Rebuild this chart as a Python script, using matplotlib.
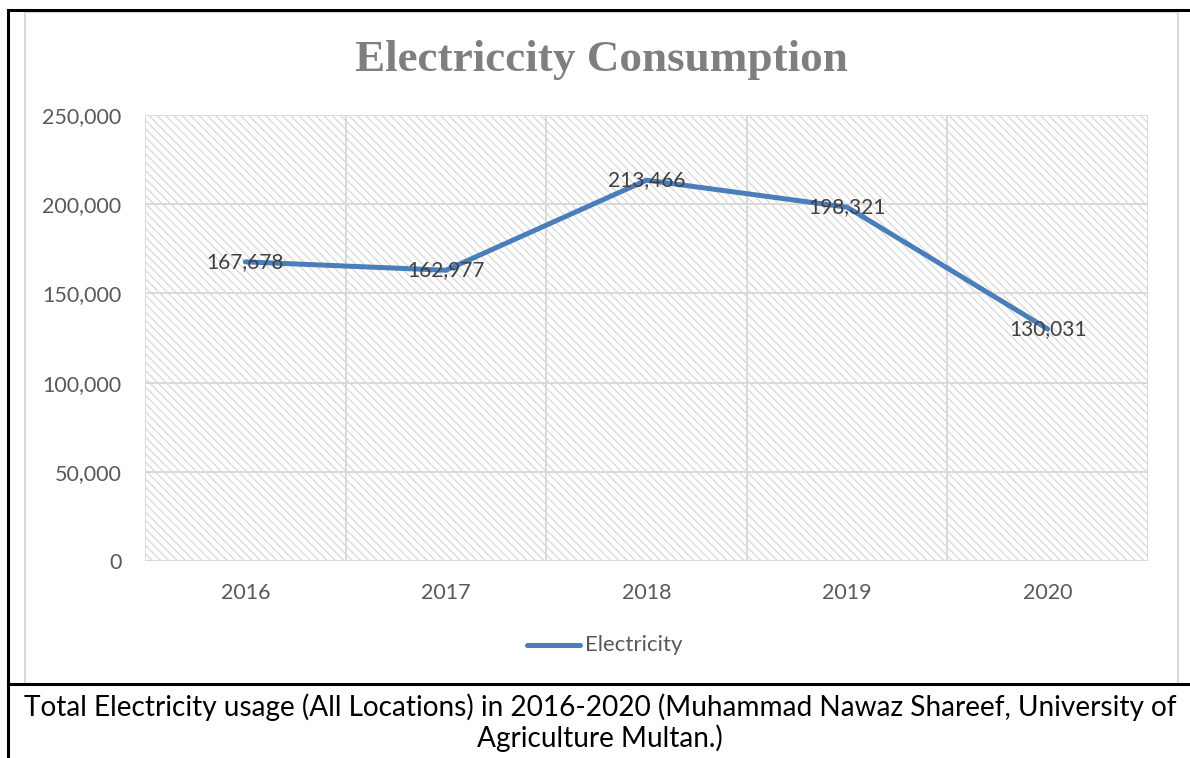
import matplotlib
matplotlib.use("Agg")
import matplotlib.pyplot as plt
from matplotlib.lines import Line2D
from matplotlib.patches import Rectangle
from matplotlib.ticker import FuncFormatter

# data
years = ["2016", "2017", "2018", "2019", "2020"]
electricity = [167678, 162977, 213466, 198321, 130031]
y_ticks = [0, 50000, 100000, 150000, 200000, 250000]

TITLE = "Electriccity Consumption"
CAPTION = ("Total Electricity usage (All Locations) in 2016-2020 (Muhammad Nawaz Shareef, University of\n"
           "Agriculture Multan.)")

BODY_FONT = "Lato"
LINE_COLOR = "#4a7ebb"
GRID_COLOR = "#d9d9d9"
TEXT_GRAY = "#595959"

plt.rcParams["hatch.linewidth"] = 0.9
plt.rcParams["hatch.color"] = GRID_COLOR

W, H = 1190, 758
fig = plt.figure(figsize=(W / 100, H / 100), dpi=100)


def fx(px):
    return px / W


def fy(py):
    return 1 - py / H


ax = fig.add_axes([fx(145), fy(561), fx(1148) - fx(145), fy(115) - fy(561)])

x = list(range(len(years)))
ax.set_xlim(-0.5, len(years) - 0.5)
ax.set_ylim(0, 250000)

# hatched plot area
ax.add_patch(Rectangle((-0.5, 0), len(years), 250000, facecolor="white",
                       edgecolor=GRID_COLOR, hatch="\\" * 4, linewidth=0,
                       zorder=0))

for yt in y_ticks:
    ax.axhline(yt, color=GRID_COLOR, linewidth=1.4, zorder=1)
for b in [i - 0.5 for i in range(len(years) + 1)]:
    ax.axvline(b, color=GRID_COLOR, linewidth=1.4, zorder=1)

ax.plot(x, electricity, color=LINE_COLOR, linewidth=3.6,
        solid_capstyle="round", solid_joinstyle="round", zorder=3)

for xi, v in zip(x, electricity):
    ax.text(xi, v, f"{v:,}", ha="center", va="center", fontsize=15,
            family=BODY_FONT, color="#404040", zorder=4)

for s in ax.spines.values():
    s.set_visible(False)
ax.set_yticks(y_ticks)
ax.yaxis.set_major_formatter(FuncFormatter(lambda v, p: f"{int(v):,}"))
ax.set_xticks(x)
ax.set_xticklabels(years)
ax.tick_params(length=0, labelsize=15.5, labelcolor=TEXT_GRAY)
ax.tick_params(axis="y", pad=17)
ax.tick_params(axis="x", pad=16)
for lab in ax.get_xticklabels() + ax.get_yticklabels():
    lab.set_family(BODY_FONT)

# legend
fig.add_artist(Line2D([fx(527), fx(580)], [fy(645), fy(645)],
                      color=LINE_COLOR, linewidth=3.6,
                      solid_capstyle="round"))
fig.text(fx(585), fy(645), "Electricity", ha="left", va="center",
         fontsize=16, family=BODY_FONT, color=TEXT_GRAY)

fig.text(fx(601), fy(60), TITLE, ha="center", va="center", fontsize=32.5,
         family="Liberation Serif", weight="bold", color="#7f7f7f")

# chart area border and outer frame
fig.add_artist(Rectangle((fx(25), fy(684)), fx(1178) - fx(25),
                         fy(12) - fy(684), fill=False, edgecolor=GRID_COLOR,
                         linewidth=1.5))
for xs, ys in [([8, 1190], [10, 10]), ([8, 8], [10, 758]),
               ([8, 1190], [684, 684])]:
    fig.add_artist(Line2D([fx(v) for v in xs], [fy(v) for v in ys],
                          color="black", linewidth=2.2))

fig.text(fx(600), fy(723), CAPTION, ha="center", va="center",
         fontsize=20.2, family=BODY_FONT, color="black", linespacing=1.15)

fig.savefig("out.png", dpi=100)
